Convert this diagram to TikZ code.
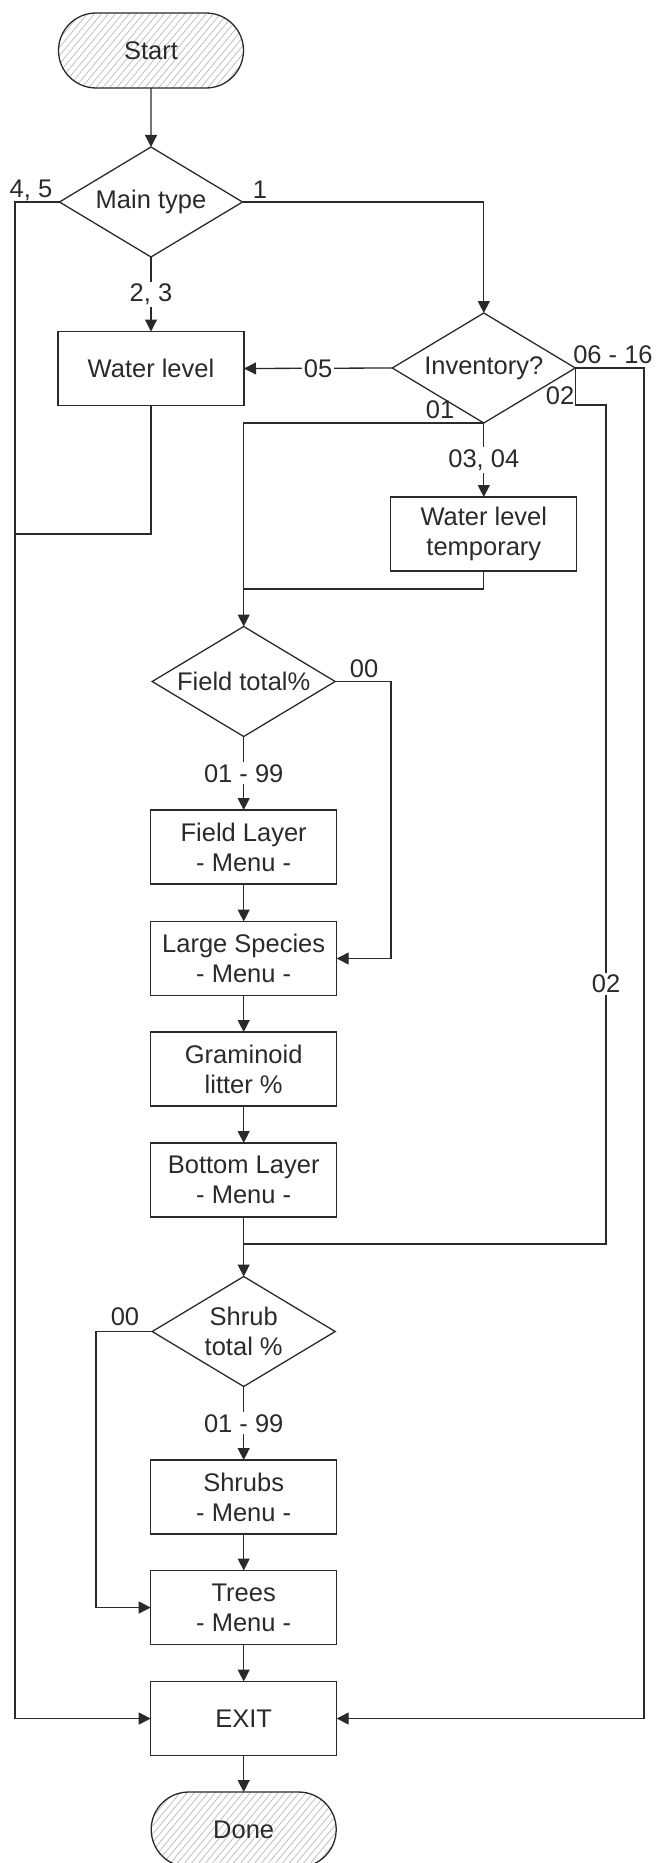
\documentclass[tikz,border=0pt]{standalone}
\usepackage{fontspec}
\setmainfont{Liberation Sans}
\usetikzlibrary{arrows.meta,shapes.geometric,shapes.misc}
\definecolor{ink}{HTML}{2A2A2A}
\definecolor{hatchgray}{HTML}{B8B8B8}
\begin{document}
\begin{tikzpicture}[x=1pt,y=-1pt,
  font=\fontsize{25.5}{30}\selectfont,
  every node/.style={text=ink},
  ln/.style={draw=ink, line width=1.3pt},
  arr/.style={ln, -{Triangle[length=12pt,width=12pt]}},
  box/.style={rectangle, draw=ink, line width=1.3pt, minimum width=186pt, minimum height=74pt,
    inner sep=0pt, outer sep=0pt, align=center},
  decision/.style={diamond, draw=ink, line width=1.3pt, minimum width=183pt, minimum height=110pt,
    shape aspect=1.66, inner sep=0pt, outer sep=0pt, align=center},
  hatch/.style={path picture={
    \foreach \k in {0,...,40}{
      \pgfmathsetmacro\xs{\k*7-75}
      \draw[hatchgray, line width=0.7pt] ([xshift=\xs pt]path picture bounding box.south west) -- ++(70pt,84pt);
    }}},
  terminal/.style={rounded rectangle, draw=ink, line width=1.3pt, minimum width=185pt,
    minimum height=75pt, inner sep=0pt, outer sep=0pt, hatch},
  lbl/.style={inner sep=1pt},
  lblw/.style={inner sep=2pt, fill=white}]

\useasboundingbox (0,0) rectangle (656,1863);

% main column
\node[terminal] (start) at (151,50.5) {Start};
\node[decision] (main)  at (151,202) {Main type};
\node[box]      (wl)    at (151,368.5) {Water level};

% inventory branch
\node[decision] (inv) at (483.8,368) {Inventory?};
\node[box]      (wlt) at (483.8,534) {Water level\\temporary};

% field layer column
\node[decision] (field)  at (243.7,681.5) {Field total\%};
\node[box]      (fl)     at (243.7,847) {Field Layer\\- Menu -};
\node[box]      (ls)     at (243.7,958.5) {Large Species\\- Menu -};
\node[box]      (gl)     at (243.7,1069) {Graminoid\\litter \%};
\node[box]      (bl)     at (243.7,1180) {Bottom Layer\\- Menu -};
\node[decision] (shrub)  at (243.7,1331.5) {Shrub\\total \%};
\node[box]      (shrubs) at (243.7,1497) {Shrubs\\- Menu -};
\node[box]      (trees)  at (243.7,1607.5) {Trees\\- Menu -};
\node[box]      (exit)   at (243.7,1718.5) {EXIT};
\node[terminal] (done)   at (243.7,1829.5) {Done};

% bend points
\coordinate (lft)  at (15,202);
\coordinate (wlj)  at (15,534);
\coordinate (r1)   at (644,368);
\coordinate (r2a)  at (575.3,405);
\coordinate (r2b)  at (606,405);
\coordinate (r2c)  at (606,1244);
\coordinate (r2d)  at (243.7,1244);
\coordinate (wltj) at (243.7,589);
\coordinate (f00)  at (391,681.5);
\coordinate (s00)  at (96,1331.5);

% connectors
\draw[arr] (start) -- (main);
\draw[arr] (main.west) -- (lft) |- (exit.west);
\node[lbl] (l45) at (31,190) {4, 5};
\draw[arr] (main.east) -| (inv.north);
\node[lbl] (l1) at (260,190) {1};
\draw[arr] (main.south) -- node[lblw] (l23) {2, 3} (wl.north);
\draw[ln] (wl.south) |- (wlj);

\draw[arr] (inv.west) -- node[lblw] (l05) {05} (wl.east);
\draw[arr] (inv.east) -- (r1) |- (exit.east);
\node[lbl] (l0616) at (613,355) {06 - 16};
\draw[ln] (inv.east) -- (r2a) -- (r2b) -- node[lblw, pos=0.69] (l02b) {02} (r2c) -- (r2d);
\node[lbl] (l02a) at (560,396) {02};
\draw[arr] (inv.south) -| (field.north);
\node[lbl] (l01) at (440,410) {01};
\draw[arr] (inv.south) -- node[lblw] (l0304) {03, 04} (wlt.north);
\draw[ln] (wlt.south) |- (wltj);

\draw[arr] (field.east) -- (f00) |- (ls.east);
\node[lbl] (lf00) at (364,669) {00};
\draw[arr] (field.south) -- node[lblw] (lf99) {01 - 99} (fl.north);
\draw[arr] (fl) -- (ls);
\draw[arr] (ls) -- (gl);
\draw[arr] (gl) -- (bl);
\draw[arr] (bl) -- (shrub);

\draw[arr] (shrub.west) -- (s00) |- (trees.west);
\node[lbl] (ls00) at (125,1317) {00};
\draw[arr] (shrub.south) -- node[lblw] (ls99) {01 - 99} (shrubs.north);
\draw[arr] (shrubs) -- (trees);
\draw[arr] (trees) -- (exit);
\draw[arr] (exit) -- (done);
\end{tikzpicture}
\end{document}
